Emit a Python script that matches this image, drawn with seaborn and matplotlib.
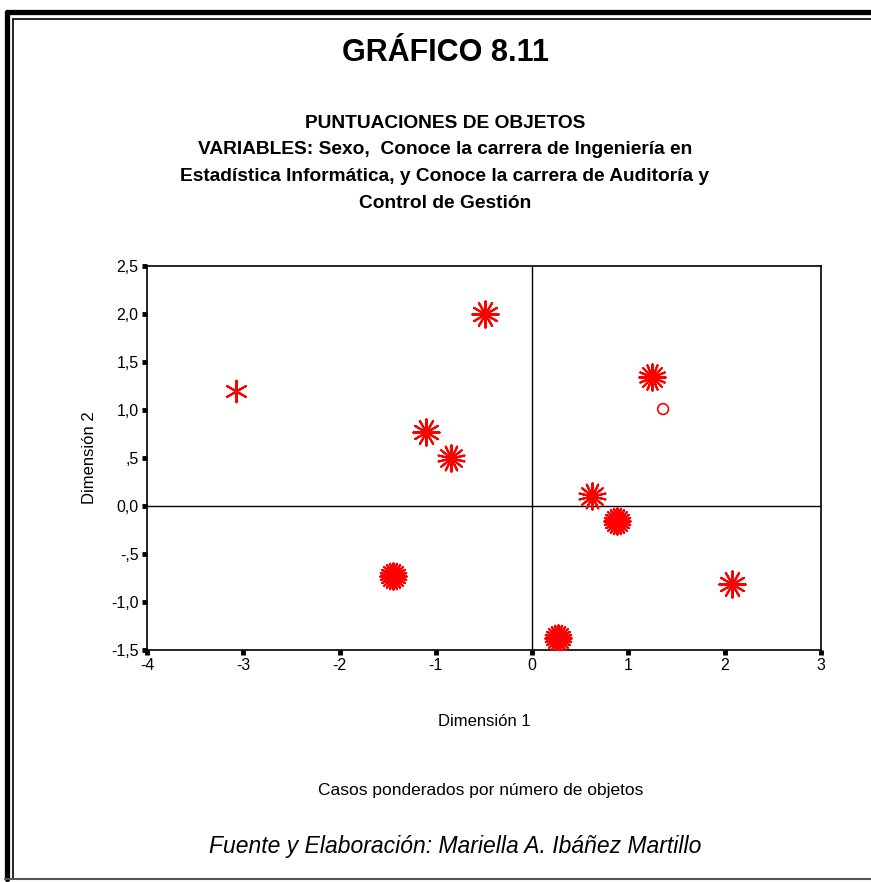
import numpy as np
import pandas as pd
import seaborn as sns
from matplotlib import pyplot as plt
from matplotlib.lines import Line2D

# object scores (dimension 1, dimension 2) and number of rays (weight)
dim1 = [-0.49, -3.08, -1.10, -0.84, -1.44, 1.24, 0.62, 0.88, 2.08, 0.27]
dim2 = [2.00, 1.20, 0.77, 0.50, -0.73, 1.34, 0.10, -0.16, -0.81, -1.38]
rays = [12, 6, 12, 14, 24, 16, 14, 24, 12, 24]
single_x = [1.36]
single_y = [1.01]

x_ticks = [-4, -3, -2, -1, 0, 1, 2, 3]
y_ticks = [-1.5, -1.0, -0.5, 0.0, 0.5, 1.0, 1.5, 2.0, 2.5]
y_labels = ["-1,5", "-1,0", "-,5", "0,0", ",5", "1,0", "1,5", "2,0", "2,5"]

df = pd.DataFrame({"d1": dim1, "d2": dim2, "n": rays})

sns.set_style("white")
plt.rcParams["font.family"] = ["Liberation Sans", "DejaVu Sans"]
plt.rcParams["text.color"] = "black"
plt.rcParams["axes.labelcolor"] = "black"
plt.rcParams["xtick.color"] = "black"
plt.rcParams["ytick.color"] = "black"

fig = plt.figure(figsize=(8.71, 8.82), dpi=100)
W, H = 871, 882


def fx(px):
    return px / W


def fy(py):
    return 1 - py / H


# page frame: thick outer line on top/left, thin inner line, thin bottom
tf = fig.transFigure
fig.lines.append(Line2D([fx(7), fx(880)], [fy(12), fy(12)], transform=tf, lw=3.8, color="black"))
fig.lines.append(Line2D([fx(7), fx(7)], [fy(12), fy(879)], transform=tf, lw=3.8, color="black"))
fig.lines.append(Line2D([fx(13), fx(880)], [fy(19), fy(19)], transform=tf, lw=1.2, color="black"))
fig.lines.append(Line2D([fx(13), fx(13)], [fy(19), fy(878)], transform=tf, lw=1.2, color="black"))
fig.lines.append(Line2D([fx(5), fx(880)], [fy(878.5), fy(878.5)], transform=tf, lw=1.5, color="#555555"))

ax = fig.add_axes([fx(147), fy(650), fx(821 - 147), fy(266) - fy(650)])

ax.axhline(0, color="black", lw=1, zorder=1)
ax.axvline(0, color="black", lw=1, zorder=1)

for _, r in df.iterrows():
    n = int(r["n"])
    size = 240 if n < 10 else 360
    sns.scatterplot(x=[r["d1"]], y=[r["d2"]], marker=(n, 2, 0), s=size, color="red",
                    linewidth=1.5, ax=ax, zorder=3)
    if n >= 12:
        sns.scatterplot(x=[r["d1"]], y=[r["d2"]], marker="D" if n >= 20 else "o",
                        s=100 if n >= 20 else 45, color="red", linewidth=0, ax=ax, zorder=3)

ax.scatter(single_x, single_y, s=60, facecolors="none", edgecolors="red", linewidths=1.2, zorder=3)

ax.set_xlim(-4, 3)
ax.set_ylim(-1.5, 2.5)
ax.set_xticks(x_ticks)
ax.set_xticklabels([str(t) for t in x_ticks])
ax.set_yticks(y_ticks)
ax.set_yticklabels(y_labels)
ax.tick_params(bottom=True, left=True, direction="out", length=3.5, width=3.5, color="black",
               labelsize=11.5, pad=2.5)
for s in ax.spines.values():
    s.set_color("black")
    s.set_linewidth(1.2)

ax.set_xlabel("Dimensión 1", fontsize=12, labelpad=29)
ax.set_ylabel("Dimensión 2", fontsize=12, labelpad=10)

fig.text(fx(445), fy(53), "GRÁFICO 8.11", ha="center", va="center", fontsize=22, fontweight="bold")
subtitle = ["PUNTUACIONES DE OBJETOS",
            "VARIABLES: Sexo,  Conoce la carrera de Ingeniería en",
            "Estadística Informática, y Conoce la carrera de Auditoría y",
            "Control de Gestión"]
for i, line in enumerate(subtitle):
    fig.text(fx(445), fy(123 + 26.7 * i), line, ha="center", va="center", fontsize=13.8, fontweight="bold")

fig.text(fx(481), fy(791), "Casos ponderados por número de objetos", ha="center", va="center", fontsize=12.5)
fig.text(fx(455), fy(846), "Fuente y Elaboración: Mariella A. Ibáñez Martillo", ha="center", va="center",
         fontsize=16.5, style="italic")

fig.savefig("out.png", dpi=100)
